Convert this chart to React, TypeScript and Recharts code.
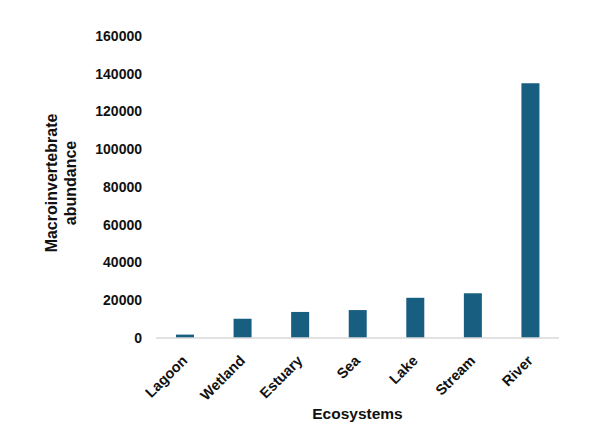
import React from 'react';
import { BarChart, Bar, XAxis, YAxis, Label } from 'recharts';

const ecosystems = ['Lagoon', 'Wetland', 'Estuary', 'Sea', 'Lake', 'Stream', 'River'];
const abundance = [1800, 10200, 13800, 14800, 21300, 23700, 135000];
const yTicks = [0, 20000, 40000, 60000, 80000, 100000, 120000, 140000, 160000];

const data = ecosystems.map((name, i) => ({ name, value: abundance[i] }));

const font = 'Arial, "Liberation Sans", sans-serif';

const XTick = (props: any) => {
  const { x, y, payload } = props;
  return (
    <g transform={`translate(${x},${y + 12})`}>
      <text
        textAnchor="end"
        transform="rotate(-45)"
        fontFamily={font}
        fontWeight="bold"
        fontSize={14.5}
        fill="#111"
        dy={5}
      >
        {payload.value}
      </text>
    </g>
  );
};

const YTitle = (props: any) => {
  const { viewBox } = props;
  const cy = viewBox.y + viewBox.height / 2 - 4;
  return (
    <g transform={`translate(62,${cy}) rotate(-90)`}>
      <text textAnchor="middle" fontFamily={font} fontWeight="bold" fontSize={16} fill="#111">
        <tspan x={0} dy={-5}>Macroinvertebrate</tspan>
        <tspan x={0} dy={19}>abundance</tspan>
      </text>
    </g>
  );
};

export default function App() {
  return (
    <div style={{ position: 'absolute', left: 0, top: 0, background: '#fff' }}>
      <BarChart
        width={601}
        height={448}
        data={data}
        margin={{ top: 36, right: 42, bottom: 80, left: 0 }}
      >
        <XAxis
          dataKey="name"
          height={30}
          axisLine={{ stroke: '#d9d9d9', strokeWidth: 1.5 }}
          tickLine={false}
          tick={<XTick />}
          interval={0}
        >
          <Label
            value="Ecosystems"
            position="bottom"
            offset={40}
            style={{ fontFamily: font, fontWeight: 'bold', fontSize: 15.5, fill: '#111' }}
          />
        </XAxis>
        <YAxis
          width={156}
          domain={[0, 160000]}
          ticks={yTicks}
          axisLine={false}
          tickLine={false}
          tickSize={0}
          tickMargin={14}
          interval={0}
          tick={{ fontFamily: font, fontWeight: 'bold', fontSize: 14, fill: '#111' }}
        >
          <Label content={<YTitle />} />
        </YAxis>
        <Bar dataKey="value" fill="#175e80" barSize={18} isAnimationActive={false} />
      </BarChart>
    </div>
  );
}
